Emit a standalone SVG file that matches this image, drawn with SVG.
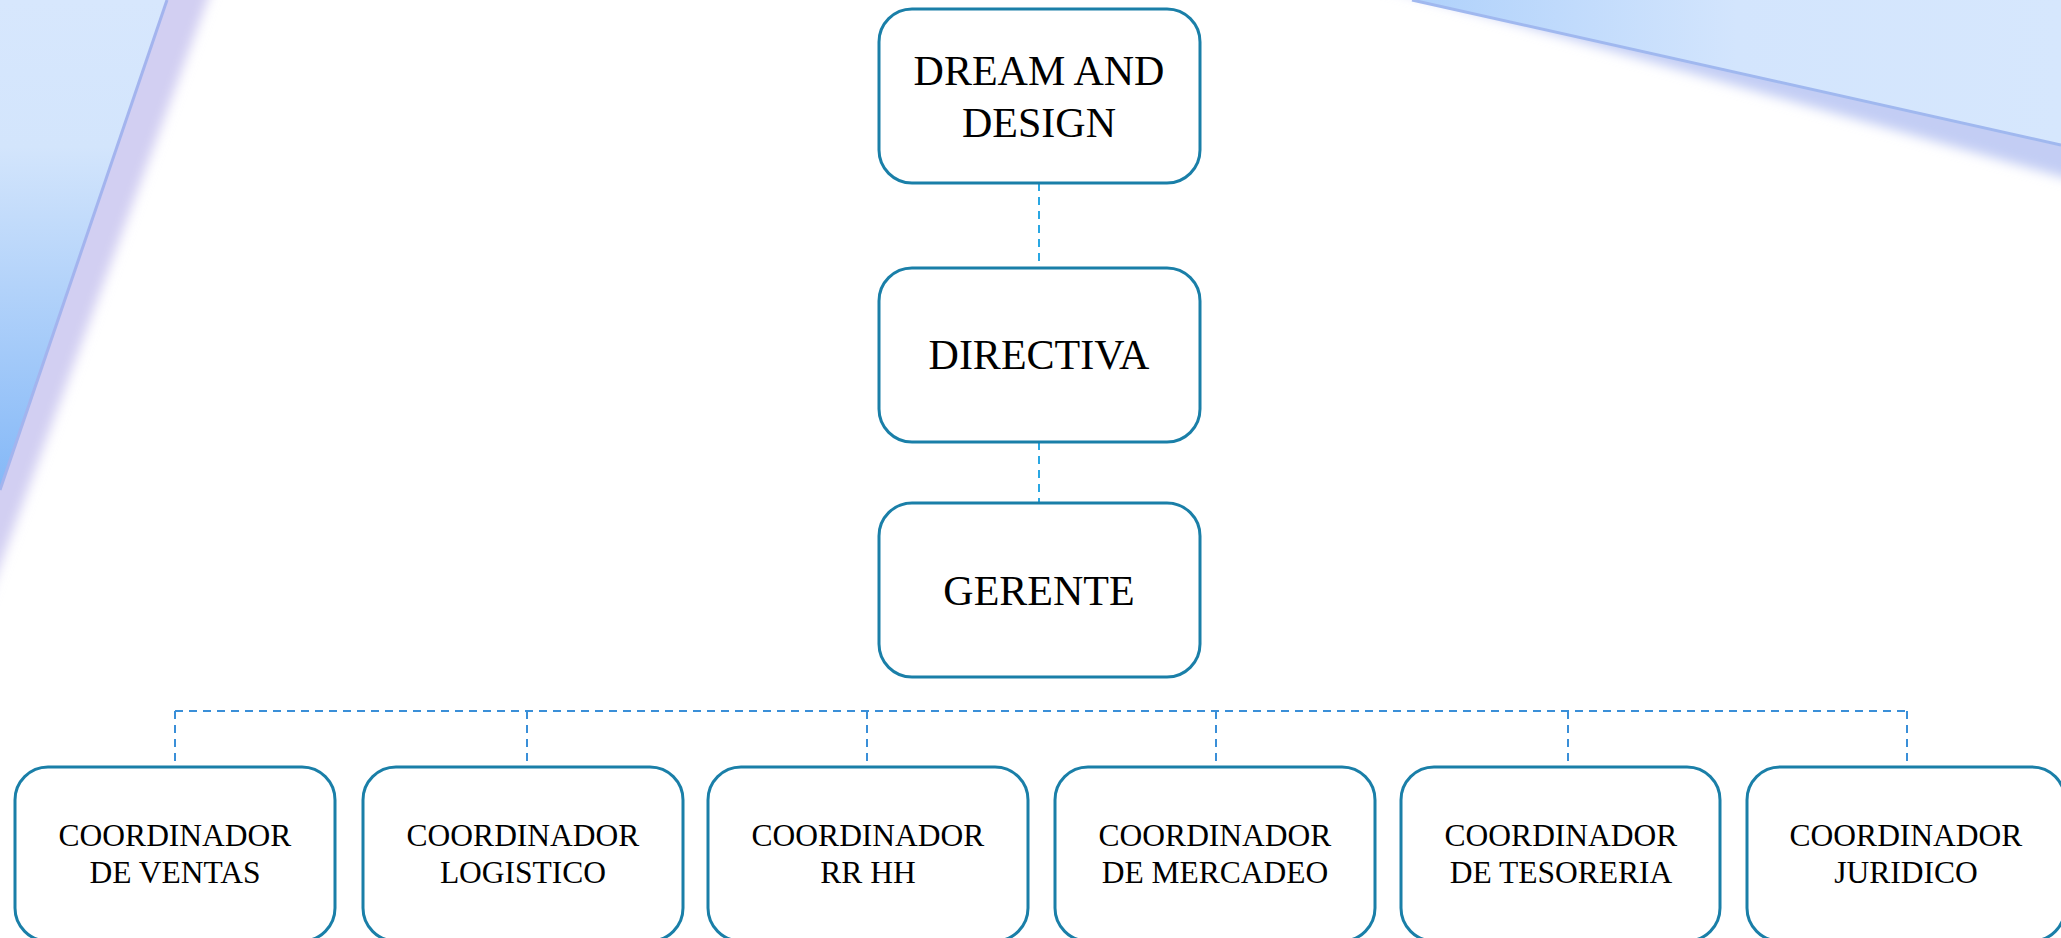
<svg xmlns="http://www.w3.org/2000/svg" width="2061" height="938" viewBox="0 0 2061 938">
<style>
.node rect{fill:#ffffff;stroke:#1a7fa8;stroke-width:3}
.node text{font-family:"Liberation Serif","Times New Roman",serif;fill:#000;text-anchor:middle}
.big{font-size:42px}
.small{font-size:31.5px}
.conn line{stroke-width:2;stroke-dasharray:8 6;fill:none}
.c1{stroke:#2aa7e3}
.c2{stroke:#3a8fd8}
</style>
<defs>
<linearGradient id="gLeft" x1="0" y1="0" x2="0" y2="1">
<stop offset="0" stop-color="#d7e7fd"/>
<stop offset="0.3" stop-color="#d3e5fc"/>
<stop offset="1" stop-color="#84b8f7"/>
</linearGradient>
<linearGradient id="gTop" x1="0" y1="0" x2="1" y2="0">
<stop offset="0" stop-color="#afd1fb"/>
<stop offset="0.5" stop-color="#d3e5fd"/>
<stop offset="1" stop-color="#d6e7fd"/>
</linearGradient>
<filter id="blur" x="-50%" y="-50%" width="200%" height="200%">
<feGaussianBlur stdDeviation="6"/>
</filter>
</defs>
<rect x="0" y="0" width="2061" height="938" fill="#ffffff"/>
<g id="background">
<polygon points="-20,-20 215,-20 -20,620" fill="#d2cff2" filter="url(#blur)"/>
<polygon points="0,0 167,0 0,490" fill="url(#gLeft)"/>
<line x1="167" y1="0" x2="0" y2="490" stroke="#a3b4ee" stroke-width="3"/>
<polygon points="1360,-20 2080,-20 2080,182" fill="#c3cdf4" filter="url(#blur)"/>
<polygon points="1412,0 2061,0 2061,145" fill="url(#gTop)"/>
<line x1="1412" y1="0" x2="2061" y2="145" stroke="#a0b8ef" stroke-width="3"/>
</g>
<g id="connectors" class="conn">
<line class="c1" x1="1039" y1="183" x2="1039" y2="267"/>
<line class="c1" x1="1039" y1="442" x2="1039" y2="503"/>
<line class="c2" x1="175" y1="711" x2="1907" y2="711"/>
<line class="c2" x1="175" y1="711" x2="175" y2="766"/>
<line class="c2" x1="527" y1="711" x2="527" y2="766"/>
<line class="c2" x1="867" y1="711" x2="867" y2="766"/>
<line class="c2" x1="1216" y1="711" x2="1216" y2="766"/>
<line class="c2" x1="1568" y1="711" x2="1568" y2="766"/>
<line class="c2" x1="1907" y1="711" x2="1907" y2="766"/>
</g>
<g id="n-dream" class="node">
<rect x="879" y="9" width="321" height="174" rx="33"/>
<text class="big" x="1039" y="85">DREAM AND</text>
<text class="big" x="1039" y="137">DESIGN</text>
</g>
<g id="n-directiva" class="node">
<rect x="879" y="268" width="321" height="174" rx="33"/>
<text class="big" x="1039" y="369">DIRECTIVA</text>
</g>
<g id="n-gerente" class="node">
<rect x="879" y="503" width="321" height="174" rx="33"/>
<text class="big" x="1039" y="605">GERENTE</text>
</g>
<g id="n-ventas" class="node">
<rect x="15" y="767" width="320" height="174" rx="33"/>
<text class="small" x="175" y="846">COORDINADOR</text>
<text class="small" x="175" y="883">DE VENTAS</text>
</g>
<g id="n-logistico" class="node">
<rect x="363" y="767" width="320" height="174" rx="33"/>
<text class="small" x="523" y="846">COORDINADOR</text>
<text class="small" x="523" y="883">LOGISTICO</text>
</g>
<g id="n-rrhh" class="node">
<rect x="708" y="767" width="320" height="174" rx="33"/>
<text class="small" x="868" y="846">COORDINADOR</text>
<text class="small" x="868" y="883">RR HH</text>
</g>
<g id="n-mercadeo" class="node">
<rect x="1055" y="767" width="320" height="174" rx="33"/>
<text class="small" x="1215" y="846">COORDINADOR</text>
<text class="small" x="1215" y="883">DE MERCADEO</text>
</g>
<g id="n-tesoreria" class="node">
<rect x="1401" y="767" width="319" height="174" rx="33"/>
<text class="small" x="1561" y="846">COORDINADOR</text>
<text class="small" x="1561" y="883">DE TESORERIA</text>
</g>
<g id="n-juridico" class="node">
<rect x="1747" y="767" width="318" height="174" rx="33"/>
<text class="small" x="1906" y="846">COORDINADOR</text>
<text class="small" x="1906" y="883">JURIDICO</text>
</g>
</svg>
